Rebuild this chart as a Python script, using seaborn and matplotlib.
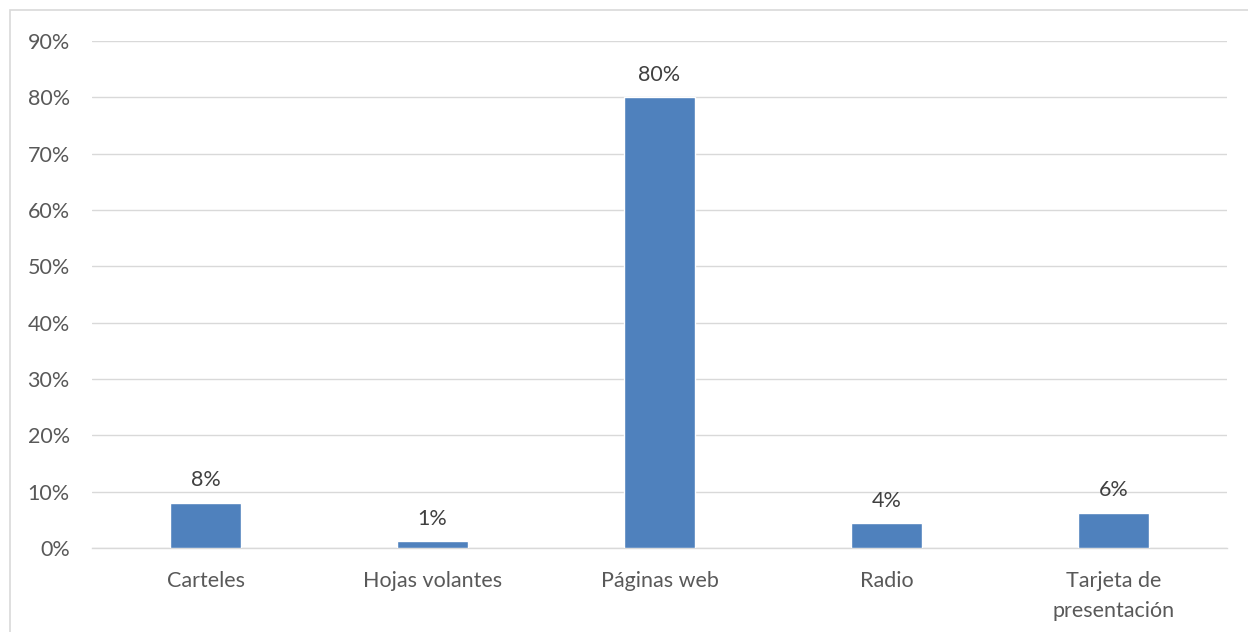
import matplotlib
matplotlib.use("Agg")
import matplotlib.pyplot as plt
from matplotlib.patches import Rectangle
from matplotlib.ticker import FuncFormatter, MultipleLocator
import seaborn as sns
import pandas as pd

# Media channels and share of respondents
categories = ["Carteles", "Hojas volantes", "Páginas web", "Radio", "Tarjeta de\npresentación"]
shares = [0.0805, 0.0124, 0.80, 0.0439, 0.0627]

df = pd.DataFrame({"medio": categories, "porcentaje": shares})

sns.set_theme(style="white")
plt.rcParams["font.family"] = ["Lato", "DejaVu Sans"]

FS = 15.5

fig = plt.figure(figsize=(12.48, 6.32), dpi=100)
ax = fig.add_axes([92 / 1248, 84 / 632, 1135 / 1248, 507 / 632])

# light frame around the chart area
fig.patches.append(Rectangle((10 / 1248, -0.01), 1.1, (632 - 10) / 632 + 0.01,
                             transform=fig.transFigure, fill=False,
                             edgecolor="#d9d9d9", linewidth=1.2, zorder=0))

sns.barplot(data=df, x="medio", y="porcentaje", color="#4f81bd", saturation=1,
            width=0.31, ax=ax, zorder=3)

ax.set_ylim(0, 0.9)
ax.set_xlim(-0.5, len(categories) - 0.5)
ax.yaxis.set_major_locator(MultipleLocator(0.1))
ax.yaxis.set_major_formatter(FuncFormatter(lambda v, _: f"{v * 100:.0f}%"))
ax.grid(axis="y", color="#d9d9d9", linewidth=1.0, zorder=0)
ax.set_axisbelow(True)

for side in ("top", "right", "left"):
    ax.spines[side].set_visible(False)
ax.spines["bottom"].set_color("#d9d9d9")
ax.spines["bottom"].set_linewidth(1.0)

ax.set_xlabel("")
ax.set_ylabel("")
ax.tick_params(axis="y", length=0, pad=16, labelsize=FS, labelcolor="#595959")
ax.tick_params(axis="x", length=0, pad=16.5, labelsize=FS, labelcolor="#595959")
for lbl in ax.get_xticklabels():
    lbl.set_linespacing(1.6)

for container in ax.containers:
    ax.bar_label(container, labels=[f"{v * 100:.0f}%" for v in shares],
                 padding=9, fontsize=FS, color="#404040")

fig.savefig("out.png", dpi=100)
